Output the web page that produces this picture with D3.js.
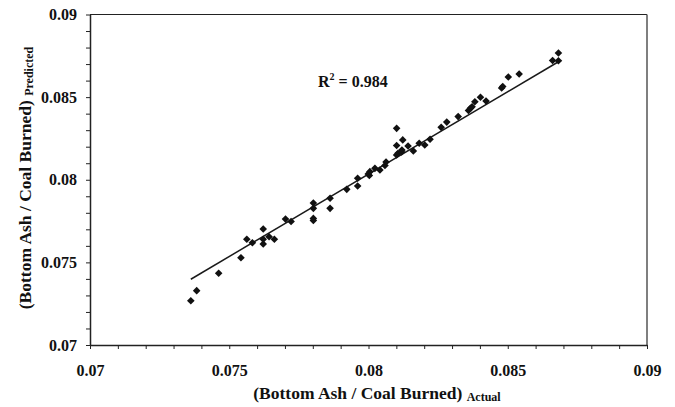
<!DOCTYPE html>
<meta charset="utf-8">
<style>
  body { margin: 0; background: #fff; }
  svg { display: block; }
  .axis path, .axis line { stroke: #222; }
  .axis text { font-family: "Liberation Serif", "Times New Roman", serif; font-weight: bold; font-size: 16px; fill: #111; }
  .title { font-family: "Liberation Serif", "Times New Roman", serif; font-weight: bold; fill: #111; }
</style>
<body>
<script src="https://cdn.jsdelivr.net/npm/d3@7"></script>
<script>

// actual values (x)
var actual = [0.07362, 0.07383, 0.07462, 0.07542, 0.07563, 0.07583, 0.07622, 0.07622, 0.07622, 0.07643,
  0.07662, 0.07702, 0.07722, 0.07802, 0.07802, 0.07802, 0.07802, 0.07862, 0.07862, 0.07922,
  0.07961, 0.07961, 0.07999, 0.08003, 0.08005, 0.08023, 0.08041, 0.08059, 0.08063, 0.08101,
  0.08101, 0.08101, 0.08106, 0.08123, 0.08120, 0.08119, 0.08142, 0.08161, 0.08182, 0.08202,
  0.08221, 0.08261, 0.08281, 0.08322, 0.08359, 0.08366, 0.08372, 0.08382, 0.08402, 0.08422,
  0.08478, 0.08482, 0.08502, 0.08541, 0.08661, 0.08682, 0.08682];

// predicted values (y), same order
var predicted = [0.07268, 0.07329, 0.07434, 0.07528, 0.07640, 0.07619, 0.07702, 0.07640, 0.07611, 0.07655,
  0.07640, 0.07762, 0.07747, 0.07859, 0.07827, 0.07766, 0.07753, 0.07888, 0.07827, 0.07942,
  0.08009, 0.07962, 0.08035, 0.08026, 0.08049, 0.08069, 0.08059, 0.08086, 0.08107, 0.08311,
  0.08207, 0.08150, 0.08160, 0.08241, 0.08180, 0.08168, 0.08204, 0.08174, 0.08221, 0.08210,
  0.08245, 0.08317, 0.08349, 0.08382, 0.08419, 0.08432, 0.08442, 0.08472, 0.08499, 0.08477,
  0.08555, 0.08564, 0.08622, 0.08640, 0.08722, 0.08767, 0.08720];

// trend line ends, as drawn in the picture
var trendX = [0.07362, 0.08682];
var trendY = [0.07398, 0.08714];

var majorTicks = [0.07, 0.075, 0.08, 0.085, 0.09];
var tickLabels = ["0.07", "0.075", "0.08", "0.085", "0.09"];
var r2Text = "0.984";

var W = 675, H = 407;
var margin = {top: 14.5, right: 28, bottom: 62, left: 90};
var w = W - margin.left - margin.right,
    h = H - margin.top - margin.bottom;

var svg = d3.select("body").append("svg")
    .attr("width", W)
    .attr("height", H);

var chart = svg.append("g")
    .attr("transform", "translate(" + margin.left + "," + margin.top + ")");

var xscale = d3.scaleLinear().domain([0.07, 0.09]).range([0, w]);
var yscale = d3.scaleLinear().domain([0.07, 0.09]).range([h, 0]);

function label(v) {
  var i = majorTicks.findIndex(function(t) { return Math.abs(t - v) < 1e-7; });
  return i < 0 ? "" : tickLabels[i];
}

// frame (top + right)
chart.append("line").attr("x1", 0).attr("x2", w).attr("y1", 0).attr("y2", 0)
  .attr("stroke", "#222").attr("stroke-width", 1.2);
chart.append("line").attr("x1", w).attr("x2", w).attr("y1", 0).attr("y2", h)
  .attr("stroke", "#555").attr("stroke-width", 1.5);

var xaxis = d3.axisBottom(xscale).ticks(20).tickSize(4).tickSizeOuter(0)
  .tickPadding(16).tickFormat(label);
var yaxis = d3.axisLeft(yscale).ticks(20).tickSize(4).tickSizeOuter(0)
  .tickPadding(9).tickFormat(label);

chart.append("g").attr("class", "axis")
  .attr("transform", "translate(0," + h + ")")
  .call(xaxis)
  .attr("font-size", null).attr("font-family", null);

chart.append("g").attr("class", "axis")
  .call(yaxis)
  .attr("font-size", null).attr("font-family", null);

chart.selectAll(".axis path").attr("stroke-width", 1.5);

// trend line
chart.append("line")
  .attr("x1", xscale(trendX[0])).attr("y1", yscale(trendY[0]))
  .attr("x2", xscale(trendX[1])).attr("y2", yscale(trendY[1]))
  .attr("stroke", "#1a1a1a").attr("stroke-width", 1.5);

// diamonds
var diamond = "M0,-3.8L3.8,0L0,3.8L-3.8,0Z";
chart.selectAll("path.pt")
  .data(actual)
  .enter().append("path")
  .attr("class", "pt")
  .attr("d", diamond)
  .attr("fill", "#111")
  .attr("transform", function(d, i) {
    return "translate(" + xscale(d) + "," + yscale(predicted[i]) + ")";
  });

// R^2 label
var r2 = svg.append("text").attr("class", "title")
  .attr("x", 318).attr("y", 86.7).attr("font-size", 16);
r2.append("tspan").text("R");
r2.append("tspan").attr("font-size", 10).attr("dy", -7).text("2");
r2.append("tspan").attr("dy", 7).text(" = " + r2Text);

// x title
var xt = svg.append("text").attr("class", "title")
  .attr("x", 377).attr("y", 399).attr("text-anchor", "middle").attr("font-size", 17.5);
xt.append("tspan").text("(Bottom Ash / Coal Burned) ");
xt.append("tspan").attr("font-size", 12).attr("dy", 2).text("Actual");

// y title
var yt = svg.append("text").attr("class", "title")
  .attr("transform", "translate(31,178) rotate(-90)")
  .attr("text-anchor", "middle").attr("font-size", 17.5);
yt.append("tspan").text("(Bottom Ash / Coal Burned) ");
yt.append("tspan").attr("font-size", 12).attr("dy", 2).text("Predicted");

</script>
</body>
